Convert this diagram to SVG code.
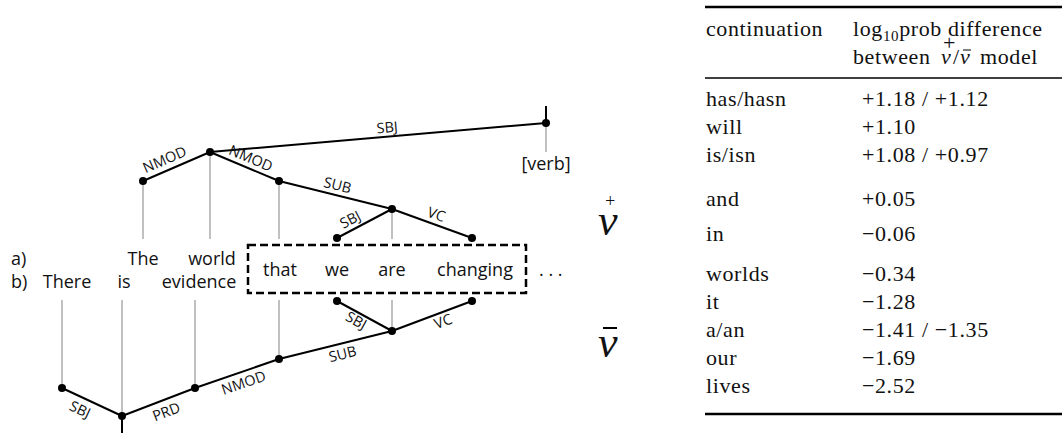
<svg xmlns="http://www.w3.org/2000/svg" width="1062" height="433" viewBox="0 0 1062 433">
<style>
.w{font-family:"Open Sans",sans-serif;font-size:18px;fill:#111;text-anchor:middle}
.wl{font-family:"Open Sans",sans-serif;font-size:18px;fill:#111}
.lbl{font-family:"Open Sans",sans-serif;font-size:14.5px;fill:#111;text-anchor:middle}
.e{stroke:#000;stroke-width:2;fill:none}
.g{stroke:#c0c0c0;stroke-width:2}
.d{fill:#000}
.t{font-family:"Liberation Serif",serif;font-size:22px;fill:#111;letter-spacing:0.6px}
.vi{font-family:"Liberation Serif",serif;font-style:italic;fill:#111}
.r{stroke:#000}
</style>
<g id="connectors">
  <g id="gray-lines">
    <line class="g" x1="143" y1="181" x2="143" y2="239"/>
    <line class="g" x1="210" y1="152" x2="210" y2="239"/>
    <line class="g" x1="279" y1="181" x2="279" y2="239"/>
    <line class="g" x1="392" y1="209" x2="392" y2="239"/>
    <line class="g" x1="546" y1="123" x2="546" y2="152"/>
    <line class="g" x1="62" y1="300" x2="62" y2="388"/>
    <line class="g" x1="122" y1="300" x2="122" y2="416"/>
    <line class="g" x1="195" y1="300" x2="195" y2="388"/>
    <line class="g" x1="279" y1="300" x2="279" y2="359"/>
    <line class="g" x1="392" y1="300" x2="392" y2="331"/>
  </g>
  <g id="top-edges">
    <line class="e" x1="546" y1="106" x2="546" y2="123"/>
    <line class="e" x1="143" y1="181" x2="210" y2="152"/>
    <line class="e" x1="210" y1="152" x2="279" y2="181"/>
    <line class="e" x1="210" y1="152" x2="546" y2="123"/>
    <line class="e" x1="279" y1="181" x2="392" y2="209"/>
    <line class="e" x1="392" y1="209" x2="337" y2="238"/>
    <line class="e" x1="392" y1="209" x2="472" y2="238"/>
  </g>
  <g id="bottom-edges">
    <line class="e" x1="122" y1="416" x2="122" y2="433"/>
    <line class="e" x1="62" y1="388" x2="122" y2="416"/>
    <line class="e" x1="122" y1="416" x2="195" y2="388"/>
    <line class="e" x1="195" y1="388" x2="279" y2="359"/>
    <line class="e" x1="279" y1="359" x2="392" y2="331"/>
    <line class="e" x1="392" y1="331" x2="337" y2="301"/>
    <line class="e" x1="392" y1="331" x2="472" y2="301"/>
  </g>
  <g id="edge-labels">
    <text class="lbl" transform="translate(169,169.7) rotate(-23.4)" y="-6">NMOD</text>
    <text class="lbl" transform="translate(247,167.5) rotate(22.8)" y="-5">NMOD</text>
    <text class="lbl" transform="translate(388,136.6) rotate(-4.9)" y="-4">SBJ</text>
    <text class="lbl" transform="translate(335,194.9) rotate(13.9)" y="-5">SUB</text>
    <text class="lbl" transform="translate(355,228.5) rotate(-27.8)" y="-5">SBJ</text>
    <text class="lbl" transform="translate(433,223.9) rotate(19.9)" y="-5">VC</text>
    <text class="lbl" transform="translate(85,398.7) rotate(25)" y="17">SBJ</text>
    <text class="lbl" transform="translate(162,400.7) rotate(-21)" y="17">PRD</text>
    <text class="lbl" transform="translate(240,372.5) rotate(-19)" y="16">NMOD</text>
    <text class="lbl" transform="translate(340,343.9) rotate(-13.9)" y="15.5">SUB</text>
    <text class="lbl" transform="translate(360,313.5) rotate(28.6)" y="13">SBJ</text>
    <text class="lbl" transform="translate(440,313) rotate(-20.6)" y="14">VC</text>
  </g>
</g>
<g id="top-nodes">
  <g id="t-the"><circle class="d" cx="143" cy="181" r="4"/></g>
  <g id="t-world"><circle class="d" cx="210" cy="152" r="4"/></g>
  <g id="t-that"><circle class="d" cx="279" cy="181" r="4"/></g>
  <g id="t-are"><circle class="d" cx="392" cy="209" r="4"/></g>
  <g id="t-we"><circle class="d" cx="337" cy="238" r="4"/></g>
  <g id="t-changing"><circle class="d" cx="472" cy="238" r="4"/></g>
  <g id="t-verb"><circle class="d" cx="546" cy="123" r="4"/><text class="w" x="546" y="170">[verb]</text></g>
</g>
<g id="bottom-nodes">
  <g id="b-there"><circle class="d" cx="62" cy="388" r="4"/></g>
  <g id="b-is"><circle class="d" cx="122" cy="416" r="4"/></g>
  <g id="b-evidence"><circle class="d" cx="195" cy="388" r="4"/></g>
  <g id="b-that"><circle class="d" cx="279" cy="359" r="4"/></g>
  <g id="b-are"><circle class="d" cx="392" cy="331" r="4"/></g>
  <g id="b-we"><circle class="d" cx="337" cy="301" r="4"/></g>
  <g id="b-changing"><circle class="d" cx="472" cy="301" r="4"/></g>
</g>
<g id="words">
  <text class="wl" x="11" y="265">a)</text>
  <text class="wl" x="11" y="288">b)</text>
  <text class="w" x="143" y="265">The</text>
  <text class="w" x="212" y="265">world</text>
  <text class="w" x="67" y="288">There</text>
  <text class="w" x="124" y="288">is</text>
  <text class="w" x="199" y="288">evidence</text>
  <g id="box">
    <rect x="248" y="245" width="278" height="48" fill="none" stroke="#000" stroke-width="2.5" stroke-dasharray="8 4"/>
    <text class="w" x="280" y="276">that</text>
    <text class="w" x="337" y="276">we</text>
    <text class="w" x="392" y="276">are</text>
    <text class="w" x="475" y="276">changing</text>
  </g>
  <text class="wl" x="539" y="276">. . .</text>
</g>
<g id="v-marks">
  <text class="vi" x="598" y="235" font-size="44">v</text>
  <text class="vi" x="604" y="207" font-size="18" font-style="normal">+</text>
  <text class="vi" x="598" y="357" font-size="44">v</text>
  <line x1="603" y1="328" x2="617" y2="328" stroke="#000" stroke-width="2"/>
</g>
<g id="table">
  <line class="r" x1="705" y1="7" x2="1062" y2="7" stroke-width="2.4"/>
  <line class="r" x1="705" y1="78" x2="1062" y2="78" stroke-width="1.3"/>
  <line class="r" x1="705" y1="414" x2="1062" y2="414" stroke-width="2.4"/>
  <text class="t" x="706" y="36">continuation</text>
  <text class="t" x="853" y="36" letter-spacing="1.2">log<tspan font-size="15" dy="5">10</tspan><tspan dy="-5">prob difference</tspan></text>
  <text class="t" x="853" y="64">between</text>
  <text class="vi" x="941" y="64" font-size="22">v</text>
  <text class="t" x="943" y="50" font-size="13">+</text>
  <text class="t" x="953" y="64">/</text>
  <text class="vi" x="960" y="64" font-size="22">v</text>
  <line x1="963" y1="50" x2="971" y2="50" stroke="#000" stroke-width="1"/>
  <text class="t" x="980" y="64" letter-spacing="1.5">model</text>
  <text class="t" x="706" y="106">has/hasn</text>
  <text class="t" x="706" y="134">will</text>
  <text class="t" x="706" y="162">is/isn</text>
  <text class="t" x="706" y="206">and</text>
  <text class="t" x="706" y="241">in</text>
  <text class="t" x="706" y="281">worlds</text>
  <text class="t" x="706" y="309">it</text>
  <text class="t" x="706" y="337">a/an</text>
  <text class="t" x="706" y="365">our</text>
  <text class="t" x="706" y="393">lives</text>
  <text class="t" x="862" y="106">+1.18 / +1.12</text>
  <text class="t" x="862" y="134">+1.10</text>
  <text class="t" x="862" y="162">+1.08 / +0.97</text>
  <text class="t" x="862" y="206">+0.05</text>
  <text class="t" x="862" y="241">−0.06</text>
  <text class="t" x="862" y="281">−0.34</text>
  <text class="t" x="862" y="309">−1.28</text>
  <text class="t" x="862" y="337">−1.41 / −1.35</text>
  <text class="t" x="862" y="365">−1.69</text>
  <text class="t" x="862" y="393">−2.52</text>
</g>
</svg>
